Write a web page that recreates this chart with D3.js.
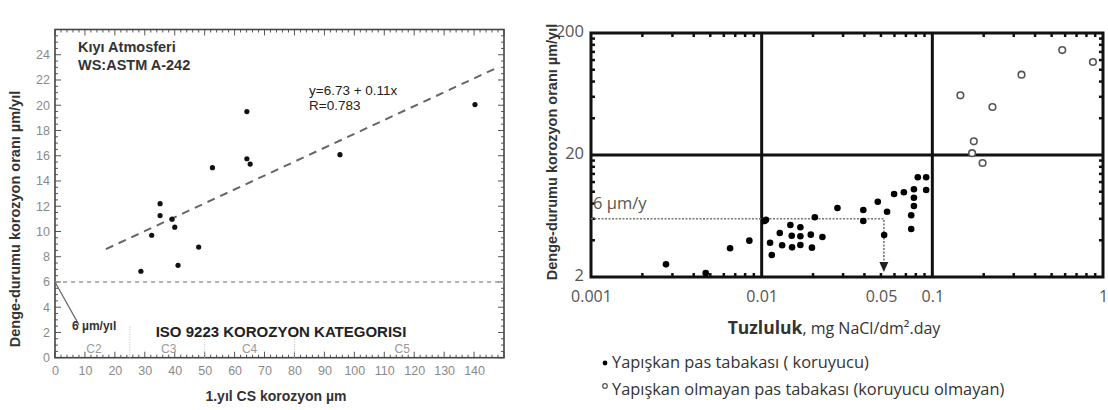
<!DOCTYPE html>
<html><head><meta charset="utf-8">
<script src="https://cdn.jsdelivr.net/npm/d3@7/dist/d3.min.js"></script>
<style>html,body{margin:0;padding:0;background:#fff;}svg{display:block;}</style>
</head><body>
<svg id="c" width="1108" height="410"></svg>
<script>
// ---- Left chart data ----
const leftX = [28.7, 32.3, 35.1, 35.1, 39.1, 40.0, 41.1, 48.0, 52.6, 64.1, 64.1, 65.2, 95.2, 140.3];
const leftY = [6.85, 9.7, 12.2, 11.26, 10.97, 10.34, 7.32, 8.76, 15.05, 19.5, 15.76, 15.34, 16.08, 20.05];
const leftXTicks = [0,10,20,30,40,50,60,70,80,90,100,110,120,130,140];
const leftYTicks = [0,2,4,6,8,10,12,14,16,18,20,22,24];
const categoryBounds = [25, 50, 80];
const categoryNames = ["C2","C3","C4","C5"];
const categoryCenters = [13, 38, 65, 116];
const regIntercept = 6.73, regSlope = 0.11, regRange = [17, 148];
const limitValue = 6;

// ---- Right chart data ----
const adherentX = [0.00275,0.0047,0.00653,0.00847,0.0104,0.0106,0.0112,0.01146,0.01277,0.01318,0.01473,0.015,0.01507,0.01686,0.01686,0.01686,0.0194,0.0197,0.0205,0.0227,0.0278,0.0394,0.0394,0.0479,0.0543,0.0522,0.0597,0.0681,0.078,0.078,0.078,0.0752,0.0752,0.0822,0.092,0.092];
const adherentY = [2.54,2.15,3.44,3.97,5.75,5.9,3.82,3.03,4.59,3.64,5.34,4.36,3.50,5.11,4.31,3.66,4.45,3.48,6.17,4.25,7.36,7.08,5.75,8.28,6.86,4.42,9.58,9.89,10.47,8.93,7.64,6.41,4.95,13.13,13.13,10.33];
const nonAdherentX = [0.146,0.225,0.333,0.577,0.873,0.175,0.171,0.197];
const nonAdherentY = [61.7,49.5,91,145,115.7,25.9,20.7,17.2];
const rightXTicks = [0.001,0.01,0.05,0.1,1];
const rightXTickLabels = ["0.001","0.01","0.05","0.1","1"];
const rightYTicks = [2,20,200];
const rightGridX = [0.01,0.1];
const rightGridY = [20];
const thresholdY = 6, thresholdX = 0.052;

const svg = d3.select("#c");

// ================= LEFT CHART =================
(function(){
  const x = d3.scaleLinear().domain([0,150]).range([55,504]);
  const y = d3.scaleLinear().domain([0,26]).range([357.7,29.5]);
  const g = svg.append("g");
  const axisCol = "#555";
  const font = "'Liberation Sans', Arial, sans-serif";

  const xMinor = d3.range(0,151,2), yMinor = d3.range(0,26.01,0.5);
  const tk = g.append("g").attr("stroke", axisCol).attr("stroke-width",1);
  xMinor.forEach(v=>{
    const L = v%10===0?6:(v%5===0?4:3);
    tk.append("line").attr("x1",x(v)).attr("x2",x(v)).attr("y1",y(0)).attr("y2",y(0)-L);
    tk.append("line").attr("x1",x(v)).attr("x2",x(v)).attr("y1",y(26)).attr("y2",y(26)+L);
  });
  yMinor.forEach(v=>{
    const L = v%2===0?6:3;
    tk.append("line").attr("y1",y(v)).attr("y2",y(v)).attr("x1",x(0)).attr("x2",x(0)+L);
    tk.append("line").attr("y1",y(v)).attr("y2",y(v)).attr("x1",x(150)).attr("x2",x(150)-L);
  });
  g.append("rect").attr("x",x(0)).attr("y",y(26)).attr("width",x(150)-x(0)).attr("height",y(0)-y(26))
    .attr("fill","none").attr("stroke","#444").attr("stroke-width",1.6);

  const xa = d3.axisBottom(x).tickValues(leftXTicks).tickSize(0).tickPadding(8);
  const xg = g.append("g").attr("transform",`translate(0,${y(0)})`).call(xa);
  xg.select(".domain").remove();
  xg.selectAll("text").attr("font-family",font).attr("font-size",12.5).attr("fill","#8a8a8a");
  const ya = d3.axisLeft(y).tickValues(leftYTicks).tickSize(0).tickPadding(5);
  const yg = g.append("g").attr("transform",`translate(${x(0)},0)`).call(ya);
  yg.select(".domain").remove();
  yg.selectAll("text").attr("font-family",font).attr("font-size",12.5).attr("fill","#8a8a8a");

  categoryBounds.forEach(b=>{
    g.append("line").attr("x1",x(b)).attr("x2",x(b)).attr("y1",y(0)).attr("y2",y(2.5))
      .attr("stroke","#bbb").attr("stroke-width",1).attr("stroke-dasharray","1,1.5");
  });
  categoryNames.forEach((n,i)=>{
    g.append("text").attr("x",x(categoryCenters[i])).attr("y",y(0)-5).attr("text-anchor","middle")
      .attr("font-family",font).attr("font-size",12).attr("fill","#999").text(n);
  });

  g.append("line").attr("x1",x(0)).attr("x2",x(150)).attr("y1",y(limitValue)).attr("y2",y(limitValue))
    .attr("stroke","#999").attr("stroke-width",1.6).attr("stroke-dasharray","4,4");
  g.append("line").attr("x1",x(0)).attr("y1",y(limitValue)).attr("x2",x(8)).attr("y2",y(2.6))
    .attr("stroke","#666").attr("stroke-width",1.2);
  g.append("text").attr("x",72).attr("y",330).attr("font-family",font).attr("font-size",12)
    .attr("font-weight","bold").attr("fill","#333").text("6 µm/yıl");

  g.append("line").attr("x1",x(regRange[0])).attr("y1",y(regIntercept+regSlope*regRange[0]))
    .attr("x2",x(regRange[1])).attr("y2",y(regIntercept+regSlope*regRange[1]))
    .attr("stroke","#666").attr("stroke-width",2).attr("stroke-dasharray","8,6");

  g.append("g").selectAll("circle").data(leftX).join("circle")
    .attr("cx",(d)=>x(d)).attr("cy",(d,i)=>y(leftY[i])).attr("r",2.6).attr("fill","#111");

  g.append("text").attr("x",78).attr("y",52).attr("font-family",font).attr("font-size",14.5)
    .attr("font-weight","bold").attr("fill","#333").text("Kıyı Atmosferi");
  g.append("text").attr("x",78).attr("y",70).attr("font-family",font).attr("font-size",14.5)
    .attr("font-weight","bold").attr("fill","#333").text("WS:ASTM A-242");
  g.append("text").attr("x",309).attr("y",95).attr("font-family",font).attr("font-size",13.5)
    .attr("fill","#222").text("y=6.73 + 0.11x");
  g.append("text").attr("x",309).attr("y",110).attr("font-family",font).attr("font-size",13.5)
    .attr("fill","#222").text("R=0.783");
  g.append("text").attr("x",281).attr("y",337).attr("text-anchor","middle").attr("font-family",font)
    .attr("font-size",15).attr("font-weight","bold").attr("fill","#222").text("ISO 9223 KOROZYON KATEGORISI");
  g.append("text").attr("x",276).attr("y",401).attr("text-anchor","middle").attr("font-family",font)
    .attr("font-size",14).attr("font-weight","bold").attr("fill","#333").text("1.yıl CS korozyon µm");
  g.append("text").attr("transform","translate(20,219) rotate(-90)").attr("text-anchor","middle")
    .attr("font-family",font).attr("font-size",14.5).attr("font-weight","bold").attr("fill","#333")
    .text("Denge-durumu korozyon oranı µm/yıl");
})();

// ================= RIGHT CHART =================
(function(){
  const x = d3.scaleLog().domain([0.001,1]).range([591,1103]);
  const y = d3.scaleLog().domain([2,200]).range([277,33]);
  const g = svg.append("g");
  const font = "'Open Sans', 'Noto Sans', sans-serif";
  const bold = "'Liberation Sans', Arial, sans-serif";

  const xm = [], ym = [];
  [0.001,0.01,0.1].forEach(b=>{ for(let k=2;k<=9;k++) xm.push(b*k); });
  [2,20].forEach(b=>{ for(let k=2;k<=9;k++) ym.push(b*k); });
  const tk = g.append("g").attr("stroke","#111").attr("stroke-width",2.5);
  xm.forEach(v=>{
    tk.append("line").attr("x1",x(v)).attr("x2",x(v)).attr("y1",y(2)).attr("y2",y(2)-4);
    tk.append("line").attr("x1",x(v)).attr("x2",x(v)).attr("y1",y(200)).attr("y2",y(200)+4);
  });
  ym.forEach(v=>{
    tk.append("line").attr("y1",y(v)).attr("y2",y(v)).attr("x1",x(0.001)).attr("x2",x(0.001)+4);
    tk.append("line").attr("y1",y(v)).attr("y2",y(v)).attr("x1",x(1)).attr("x2",x(1)-4);
  });

  rightGridX.forEach(v=>g.append("line").attr("x1",x(v)).attr("x2",x(v)).attr("y1",y(200)).attr("y2",y(2))
    .attr("stroke","#111").attr("stroke-width",3));
  rightGridY.forEach(v=>g.append("line").attr("y1",y(v)).attr("y2",y(v)).attr("x1",x(0.001)).attr("x2",x(1))
    .attr("stroke","#111").attr("stroke-width",3));
  g.append("rect").attr("x",x(0.001)).attr("y",y(200)).attr("width",x(1)-x(0.001)).attr("height",y(2)-y(200))
    .attr("fill","none").attr("stroke","#111").attr("stroke-width",3);

  const xa = d3.axisBottom(x).tickValues(rightXTicks).tickFormat((d,i)=>rightXTickLabels[i]).tickSize(0).tickPadding(14);
  const xg = g.append("g").attr("transform",`translate(0,${y(2)})`).call(xa);
  xg.select(".domain").remove();
  xg.selectAll("text").attr("font-family",font).attr("font-size",16).attr("fill","#555");
  const ya = d3.axisLeft(y).tickValues(rightYTicks).tickFormat(d3.format("d")).tickSize(0).tickPadding(7);
  const yg = g.append("g").attr("transform",`translate(${x(0.001)},0)`).call(ya);
  yg.select(".domain").remove();
  yg.selectAll("text").attr("font-family",font).attr("font-size",16.5).attr("fill","#555").attr("dy","0.2em");

  g.append("path").attr("d",`M${x(0.001)},${y(thresholdY)}H${x(thresholdX)}V${y(2)-14}`)
    .attr("fill","none").attr("stroke","#777").attr("stroke-width",1.6).attr("stroke-dasharray","2,1.5");
  g.append("path").attr("d",`M${x(thresholdX)-4.5},${y(2)-15}L${x(thresholdX)+4.5},${y(2)-15}L${x(thresholdX)},${y(2)-5}Z`)
    .attr("fill","#222");
  g.append("text").attr("x",593).attr("y",209).attr("font-family",font).attr("font-size",16.5)
    .attr("fill","#555").text("6 µm/y");

  g.append("g").selectAll("circle").data(adherentX).join("circle")
    .attr("cx",d=>x(d)).attr("cy",(d,i)=>y(adherentY[i])).attr("r",3.3).attr("fill","#000");
  g.append("g").selectAll("circle").data(nonAdherentX).join("circle")
    .attr("cx",d=>x(d)).attr("cy",(d,i)=>y(nonAdherentY[i])).attr("r",3.3).attr("fill","#fff")
    .attr("stroke","#555").attr("stroke-width",1.6);

  const xt = g.append("text").attr("x",834).attr("y",334).attr("text-anchor","middle").attr("font-family",font).attr("fill","#333");
  xt.append("tspan").attr("font-weight","bold").attr("font-size",17.5).text("Tuzluluk");
  xt.append("tspan").attr("font-size",16).text(", mg NaCl/dm².day");
  g.append("text").attr("transform","translate(557,152) rotate(-90)").attr("text-anchor","middle")
    .attr("font-family",bold).attr("font-size",14.5).attr("font-weight","bold").attr("fill","#333")
    .text("Denge-durumu korozyon oranı µm/yıl");

  g.append("circle").attr("cx",605).attr("cy",363).attr("r",2.4).attr("fill","#000");
  g.append("text").attr("x",612).attr("y",368).attr("font-family",font).attr("font-size",16.4)
    .attr("fill","#333").text("Yapışkan pas tabakası ( koruyucu)");
  g.append("circle").attr("cx",605).attr("cy",386).attr("r",2.3).attr("fill","#fff").attr("stroke","#555").attr("stroke-width",1.2);
  g.append("text").attr("x",612).attr("y",395).attr("font-family",font).attr("font-size",16.4)
    .attr("fill","#333").text("Yapışkan olmayan pas tabakası (koruyucu olmayan)");
})();
</script>
</body></html>
